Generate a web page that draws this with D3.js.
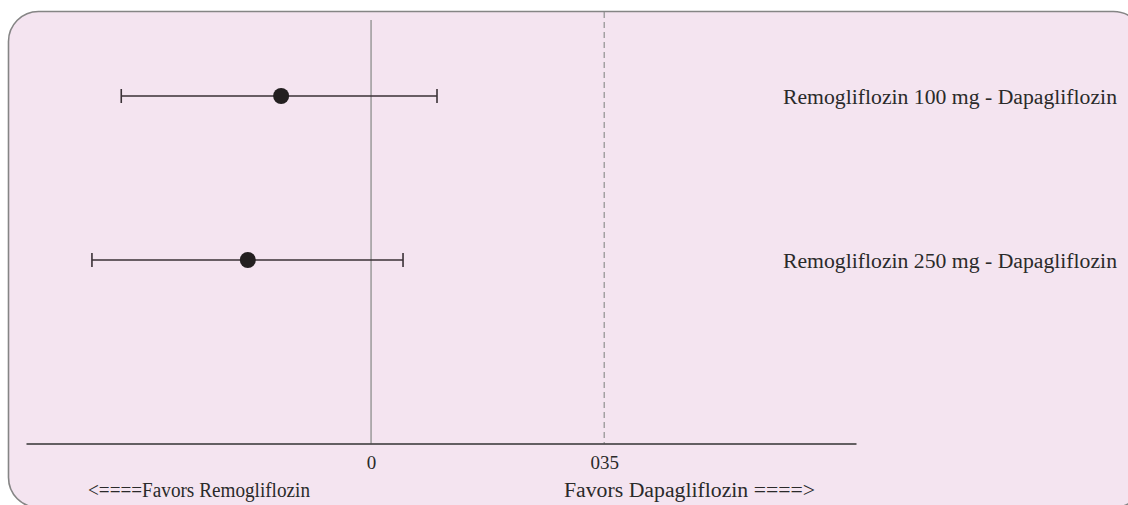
<!DOCTYPE html>
<html>
<head>
<meta charset="utf-8">
<script src="https://cdn.jsdelivr.net/npm/d3@7"></script>
<style>
  html, body { margin: 0; padding: 0; background: #ffffff; }
  svg { display: block; }
</style>
</head>
<body>
<div id="chart"></div>
<script>
// ---- Data ----
const comparisons = ["Remogliflozin 100 mg - Dapagliflozin", "Remogliflozin 250 mg - Dapagliflozin"];
const estimates   = [-0.135, -0.185];
const lowerCI     = [-0.375, -0.419];
const upperCI     = [0.099, 0.048];
const tickValues  = [0, 0.35];
const tickLabels  = ["0", "035"];
const referenceDashed = 0.35;
const favorsLeft  = "<====Favors Remogliflozin";
const favorsRight = "Favors Dapagliflozin ====>";

// ---- Layout ----
const W = 1128, H = 505;
const svg = d3.select("#chart").append("svg").attr("width", W).attr("height", H);
const font = "'Liberation Serif', 'DejaVu Serif', serif";

svg.append("rect")
  .attr("x", 8.5).attr("y", 11.5)
  .attr("width", 1135).attr("height", 496)
  .attr("rx", 30).attr("ry", 30)
  .attr("fill", "#f4e4f0")
  .attr("stroke", "#858585").attr("stroke-width", 1.6);

const x = d3.scaleLinear().domain([-0.518, 0.728]).range([26, 856]);
const y = d3.scalePoint().domain(comparisons).range([96, 260]);
const axisY = 443.5;

// zero line
svg.append("line")
  .attr("x1", x(0)).attr("x2", x(0))
  .attr("y1", 20).attr("y2", axisY)
  .attr("stroke", "#9a9a9a").attr("stroke-width", 1.5);

// dashed reference line
svg.append("line")
  .attr("x1", x(referenceDashed)).attr("x2", x(referenceDashed))
  .attr("y1", 12).attr("y2", axisY)
  .attr("stroke", "#8f8f8f").attr("stroke-width", 1.2)
  .attr("stroke-dasharray", "6,4");

// axis
const axis = d3.axisBottom(x).tickValues(tickValues)
  .tickFormat((d, i) => tickLabels[i]).tickSize(0).tickPadding(10);
const gAxis = svg.append("g").attr("transform", `translate(0,${axisY})`).call(axis);
gAxis.select(".domain").attr("stroke", "#333").attr("stroke-width", 1.5);
gAxis.selectAll("text")
  .attr("font-family", font).attr("font-size", 19).attr("fill", "#2a2a2a")
  .attr("dy", null).attr("y", 25);

// CI lines
const rows = comparisons.map((c, i) => ({ c, est: estimates[i], lo: lowerCI[i], hi: upperCI[i] }));
const g = svg.append("g");
g.selectAll(".ci").data(rows).enter().append("line")
  .attr("x1", d => x(d.lo)).attr("x2", d => x(d.hi))
  .attr("y1", d => y(d.c)).attr("y2", d => y(d.c))
  .attr("stroke", "#3a3136").attr("stroke-width", 1.6);
g.selectAll(".capL").data(rows).enter().append("line")
  .attr("x1", d => x(d.lo)).attr("x2", d => x(d.lo))
  .attr("y1", d => y(d.c) - 7).attr("y2", d => y(d.c) + 7)
  .attr("stroke", "#3a3136").attr("stroke-width", 1.6);
g.selectAll(".capR").data(rows).enter().append("line")
  .attr("x1", d => x(d.hi)).attr("x2", d => x(d.hi))
  .attr("y1", d => y(d.c) - 7).attr("y2", d => y(d.c) + 7)
  .attr("stroke", "#3a3136").attr("stroke-width", 1.6);
g.selectAll(".pt").data(rows).enter().append("circle")
  .attr("cx", d => x(d.est)).attr("cy", d => y(d.c)).attr("r", 8)
  .attr("fill", "#231f20");

// row labels
g.selectAll(".lbl").data(rows).enter().append("text")
  .attr("x", 783).attr("y", d => y(d.c) + 8)
  .attr("font-family", font).attr("font-size", 20).attr("fill", "#2a2a2a")
  .attr("textLength", 334).attr("lengthAdjust", "spacingAndGlyphs")
  .text(d => d.c);

// favors labels
svg.append("text").attr("x", 88).attr("y", 497)
  .attr("font-family", font).attr("font-size", 20).attr("fill", "#2a2a2a")
  .attr("textLength", 222).attr("lengthAdjust", "spacingAndGlyphs")
  .text(favorsLeft);
svg.append("text").attr("x", 564).attr("y", 497)
  .attr("font-family", font).attr("font-size", 20).attr("fill", "#2a2a2a")
  .attr("textLength", 251).attr("lengthAdjust", "spacingAndGlyphs")
  .text(favorsRight);
</script>
</body>
</html>
